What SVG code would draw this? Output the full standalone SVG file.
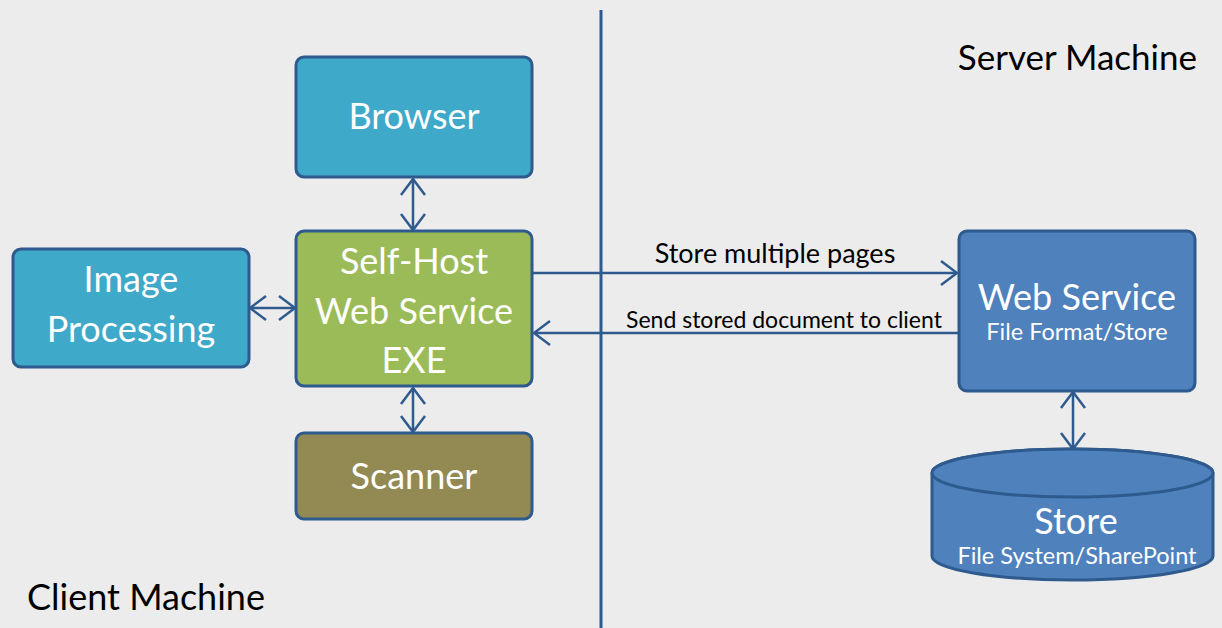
<svg xmlns="http://www.w3.org/2000/svg" width="1222" height="628" viewBox="0 0 1222 628">
<defs>
<marker id="ah" viewBox="0 0 20 26" refX="19" refY="13" markerWidth="20" markerHeight="26" markerUnits="userSpaceOnUse" orient="auto-start-reverse">
<path d="M3,1 L19,13 L3,25" fill="none" stroke="#2e5a8e" stroke-width="2.5"/>
</marker>
<style>
.box{stroke:#2e5a8e;stroke-width:3}
.t{font-family:"Lato","Open Sans",sans-serif;fill:#fff;text-anchor:middle}
.lbl{font-family:"Lato","Open Sans",sans-serif;fill:#000}
.c{fill:none;stroke:#2e5a8e;stroke-width:2.5}
</style>
</defs>
<rect width="1222" height="628" fill="#ececec"/>
<line x1="601" y1="10" x2="601" y2="628" stroke="#2e5a8e" stroke-width="3"/>
<text class="lbl" x="1197" y="70" font-size="35" text-anchor="end">Server Machine</text>
<text class="lbl" x="27" y="610" font-size="36">Client Machine</text>
<g id="connectors">
<line class="c" x1="413" y1="179" x2="413" y2="230" marker-start="url(#ah)" marker-end="url(#ah)"/>
<line class="c" x1="413" y1="388" x2="413" y2="432" marker-start="url(#ah)" marker-end="url(#ah)"/>
<line class="c" x1="250" y1="308" x2="295" y2="308" marker-start="url(#ah)" marker-end="url(#ah)"/>
<line class="c" x1="533" y1="273" x2="957" y2="273" marker-end="url(#ah)"/>
<line class="c" x1="958" y1="333" x2="534" y2="333" marker-end="url(#ah)"/>
<line class="c" x1="1073" y1="392" x2="1073" y2="449" marker-start="url(#ah)" marker-end="url(#ah)"/>
<text class="lbl" x="775" y="263" font-size="27" text-anchor="middle">Store multiple pages</text>
<text class="lbl" x="784" y="328" font-size="23" text-anchor="middle">Send stored document to client</text>
</g>
<g id="browser">
<rect class="box" x="296" y="57" width="236" height="120" rx="8" fill="#3ea9c8"/>
<text class="t" x="414" y="129" font-size="36">Browser</text>
</g>
<g id="selfhost">
<rect class="box" x="296" y="231" width="236" height="155" rx="8" fill="#9bbb59"/>
<text class="t" x="414" y="274" font-size="36">Self-Host</text>
<text class="t" x="414" y="324" font-size="36">Web Service</text>
<text class="t" x="414" y="373" font-size="36">EXE</text>
</g>
<g id="scanner">
<rect class="box" x="296" y="433" width="236" height="86" rx="8" fill="#938953"/>
<text class="t" x="414" y="489" font-size="36">Scanner</text>
</g>
<g id="imageproc">
<rect class="box" x="13" y="249" width="236" height="118" rx="8" fill="#3ea9c8"/>
<text class="t" x="131" y="292" font-size="36">Image</text>
<text class="t" x="131" y="342" font-size="36">Processing</text>
</g>
<g id="webservice">
<rect class="box" x="959" y="231" width="236" height="160" rx="8" fill="#4f81bd"/>
<text class="t" x="1077" y="310" font-size="36">Web Service</text>
<text class="t" x="1077" y="340" font-size="23.5">File Format/Store</text>
</g>
<g id="store">
<path class="box" d="M932,473 L932,556 A140.5,24 0 0 0 1213,556 L1213,473 A140.5,24 0 0 0 932,473 Z" fill="#4f81bd"/>
<ellipse class="box" cx="1072.5" cy="473" rx="140.5" ry="24" fill="#4f81bd"/>
<text class="t" x="1076" y="534" font-size="36">Store</text>
<text class="t" x="1077" y="564" font-size="23.5">File System/SharePoint</text>
</g>
</svg>
